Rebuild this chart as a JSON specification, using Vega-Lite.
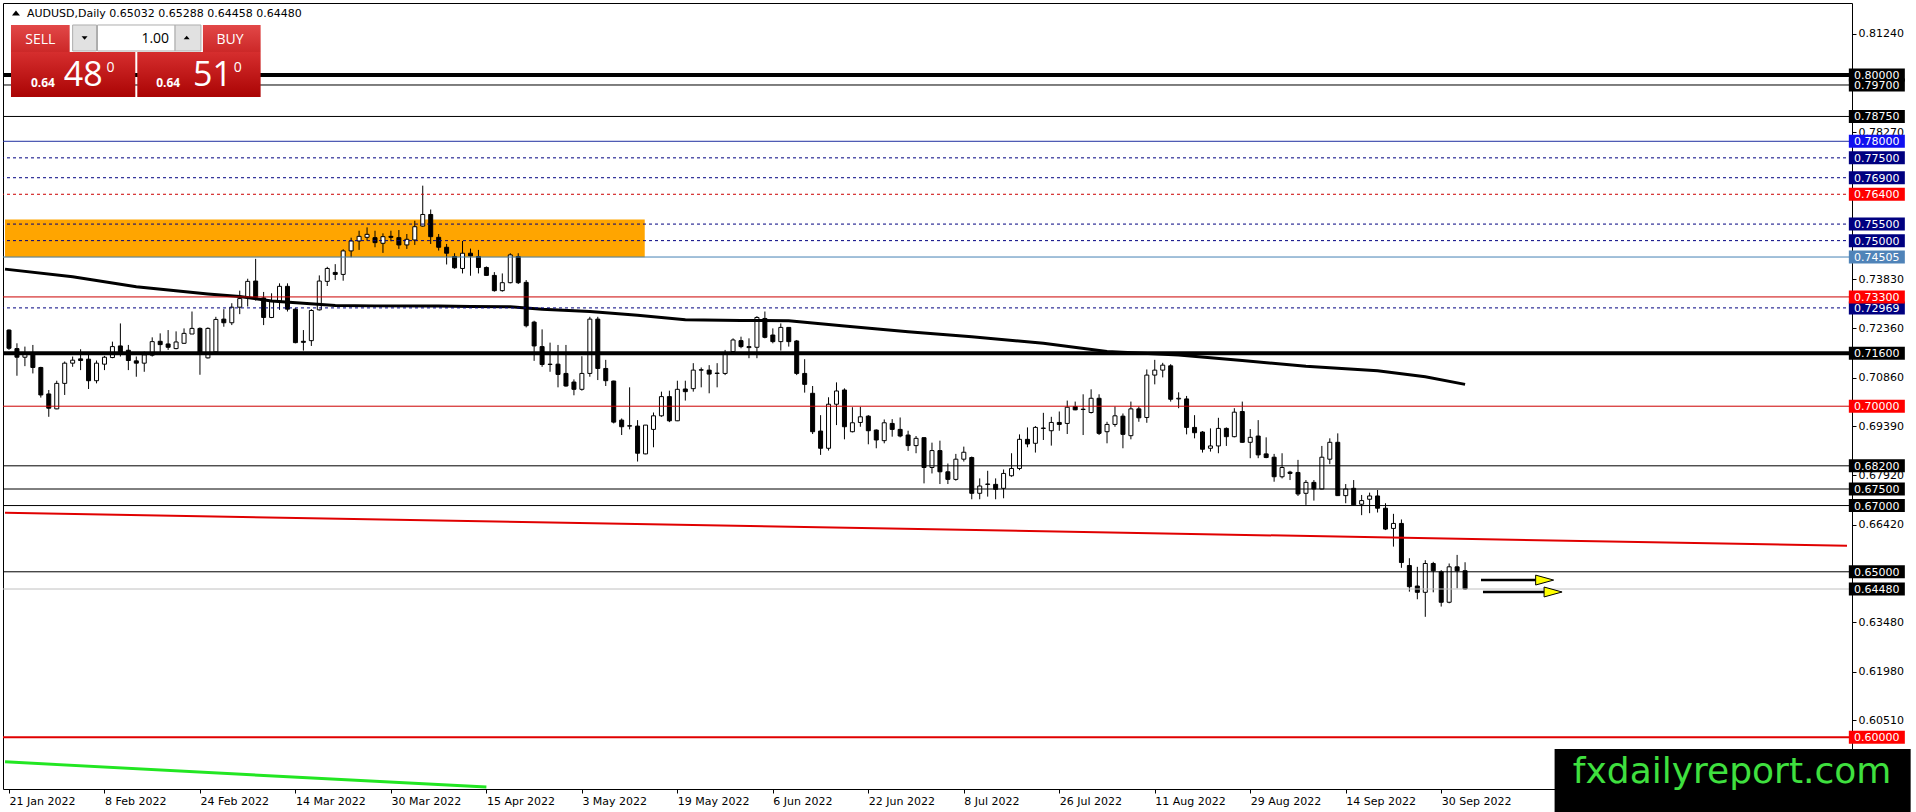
{
"$schema":"https://vega.github.io/schema/vega-lite/v6.json",
"width":1849,"height":786,
"autosize":{"type":"none"},
"padding":{"left":3,"top":3,"right":64,"bottom":23},
"background":"white",
"config":{"view":{"stroke":"black","strokeWidth":1},"font":"DejaVu Sans"},
"resolve":{"axis":{"x":"independent","y":"independent"}},
"datasets":{
"one":[{}],
"candles":[
{"i":0,"o":0.7230,"h":0.7232,"l":0.7170,"c":0.7175},
{"i":1,"o":0.7174,"h":0.7190,"l":0.7092,"c":0.7148},
{"i":2,"o":0.7148,"h":0.7180,"l":0.7121,"c":0.7157},
{"i":3,"o":0.7162,"h":0.7185,"l":0.7099,"c":0.7117},
{"i":4,"o":0.7117,"h":0.7119,"l":0.7026,"c":0.7034},
{"i":5,"o":0.7037,"h":0.7049,"l":0.6968,"c":0.6994},
{"i":6,"o":0.6992,"h":0.7077,"l":0.6991,"c":0.7069},
{"i":7,"o":0.7069,"h":0.7135,"l":0.7034,"c":0.7130},
{"i":8,"o":0.7130,"h":0.7150,"l":0.7119,"c":0.7139},
{"i":9,"o":0.7143,"h":0.7172,"l":0.7109,"c":0.7138},
{"i":10,"o":0.7142,"h":0.7162,"l":0.7052,"c":0.7077},
{"i":11,"o":0.7077,"h":0.7138,"l":0.7069,"c":0.7130},
{"i":12,"o":0.7127,"h":0.7152,"l":0.7109,"c":0.7148},
{"i":13,"o":0.7147,"h":0.7195,"l":0.7145,"c":0.7180},
{"i":14,"o":0.7182,"h":0.7250,"l":0.7150,"c":0.7162},
{"i":15,"o":0.7169,"h":0.7185,"l":0.7109,"c":0.7138},
{"i":16,"o":0.7137,"h":0.7150,"l":0.7089,"c":0.7130},
{"i":17,"o":0.7130,"h":0.7165,"l":0.7104,"c":0.7155},
{"i":18,"o":0.7154,"h":0.7208,"l":0.7150,"c":0.7195},
{"i":19,"o":0.7196,"h":0.7220,"l":0.7157,"c":0.7186},
{"i":20,"o":0.7188,"h":0.7230,"l":0.7170,"c":0.7178},
{"i":21,"o":0.7174,"h":0.7226,"l":0.7172,"c":0.7194},
{"i":22,"o":0.7190,"h":0.7235,"l":0.7188,"c":0.7220},
{"i":23,"o":0.7218,"h":0.7286,"l":0.7218,"c":0.7235},
{"i":24,"o":0.7235,"h":0.7238,"l":0.7095,"c":0.7162},
{"i":25,"o":0.7146,"h":0.7238,"l":0.7144,"c":0.7235},
{"i":26,"o":0.7164,"h":0.7270,"l":0.7160,"c":0.7262},
{"i":27,"o":0.7263,"h":0.7293,"l":0.7240,"c":0.7252},
{"i":28,"o":0.7252,"h":0.7311,"l":0.7245,"c":0.7299},
{"i":29,"o":0.7299,"h":0.7349,"l":0.7278,"c":0.7325},
{"i":30,"o":0.7329,"h":0.7385,"l":0.7301,"c":0.7377},
{"i":31,"o":0.7378,"h":0.7445,"l":0.7319,"c":0.7329},
{"i":32,"o":0.7327,"h":0.7345,"l":0.7245,"c":0.7268},
{"i":33,"o":0.7268,"h":0.7341,"l":0.7266,"c":0.7316},
{"i":34,"o":0.7318,"h":0.7371,"l":0.7291,"c":0.7362},
{"i":35,"o":0.7362,"h":0.7371,"l":0.7286,"c":0.7293},
{"i":36,"o":0.7293,"h":0.7296,"l":0.7190,"c":0.7192},
{"i":37,"o":0.7196,"h":0.7230,"l":0.7168,"c":0.7193},
{"i":38,"o":0.7198,"h":0.7293,"l":0.7182,"c":0.7289},
{"i":39,"o":0.7291,"h":0.7395,"l":0.7289,"c":0.7378},
{"i":40,"o":0.7377,"h":0.7421,"l":0.7363,"c":0.7416},
{"i":41,"o":0.7404,"h":0.7429,"l":0.7381,"c":0.7398},
{"i":42,"o":0.7398,"h":0.7474,"l":0.7379,"c":0.7469},
{"i":43,"o":0.7469,"h":0.7509,"l":0.7450,"c":0.7499},
{"i":44,"o":0.7499,"h":0.7530,"l":0.7472,"c":0.7513},
{"i":45,"o":0.7510,"h":0.7540,"l":0.7500,"c":0.7519},
{"i":46,"o":0.7509,"h":0.7530,"l":0.7480,"c":0.7494},
{"i":47,"o":0.7492,"h":0.7522,"l":0.7463,"c":0.7512},
{"i":48,"o":0.7513,"h":0.7530,"l":0.7498,"c":0.7510},
{"i":49,"o":0.7509,"h":0.7532,"l":0.7475,"c":0.7487},
{"i":50,"o":0.7487,"h":0.7520,"l":0.7475,"c":0.7504},
{"i":51,"o":0.7502,"h":0.7560,"l":0.7487,"c":0.7542},
{"i":52,"o":0.7544,"h":0.7666,"l":0.7542,"c":0.7579},
{"i":53,"o":0.7579,"h":0.7594,"l":0.7490,"c":0.7512},
{"i":54,"o":0.7510,"h":0.7520,"l":0.7470,"c":0.7480},
{"i":55,"o":0.7480,"h":0.7490,"l":0.7428,"c":0.7462},
{"i":56,"o":0.7452,"h":0.7462,"l":0.7415,"c":0.7418},
{"i":57,"o":0.7416,"h":0.7499,"l":0.7401,"c":0.7462},
{"i":58,"o":0.7462,"h":0.7476,"l":0.7394,"c":0.7454},
{"i":59,"o":0.7452,"h":0.7472,"l":0.7401,"c":0.7419},
{"i":60,"o":0.7419,"h":0.7422,"l":0.7394,"c":0.7395},
{"i":61,"o":0.7395,"h":0.7405,"l":0.7346,"c":0.7349},
{"i":62,"o":0.7349,"h":0.7401,"l":0.7346,"c":0.7373},
{"i":63,"o":0.7373,"h":0.7462,"l":0.7371,"c":0.7457},
{"i":64,"o":0.7452,"h":0.7462,"l":0.7369,"c":0.7373},
{"i":65,"o":0.7374,"h":0.7381,"l":0.7238,"c":0.7243},
{"i":66,"o":0.7254,"h":0.7258,"l":0.7137,"c":0.7182},
{"i":67,"o":0.7180,"h":0.7232,"l":0.7119,"c":0.7126},
{"i":68,"o":0.7127,"h":0.7192,"l":0.7104,"c":0.7126},
{"i":69,"o":0.7127,"h":0.7185,"l":0.7057,"c":0.7096},
{"i":70,"o":0.7099,"h":0.7185,"l":0.7059,"c":0.7061},
{"i":71,"o":0.7073,"h":0.7081,"l":0.7033,"c":0.7051},
{"i":72,"o":0.7051,"h":0.7151,"l":0.7047,"c":0.7099},
{"i":73,"o":0.7099,"h":0.7270,"l":0.7089,"c":0.7263},
{"i":74,"o":0.7263,"h":0.7270,"l":0.7079,"c":0.7114},
{"i":75,"o":0.7114,"h":0.7140,"l":0.7061,"c":0.7077},
{"i":76,"o":0.7076,"h":0.7077,"l":0.6948,"c":0.6952},
{"i":77,"o":0.6958,"h":0.6963,"l":0.6913,"c":0.6938},
{"i":78,"o":0.6941,"h":0.7057,"l":0.6930,"c":0.6940},
{"i":79,"o":0.6940,"h":0.6958,"l":0.6833,"c":0.6858},
{"i":80,"o":0.6856,"h":0.6943,"l":0.6855,"c":0.6943},
{"i":81,"o":0.6930,"h":0.6981,"l":0.6876,"c":0.6971},
{"i":82,"o":0.6971,"h":0.7044,"l":0.6968,"c":0.7029},
{"i":83,"o":0.7029,"h":0.7047,"l":0.6952,"c":0.6956},
{"i":84,"o":0.6956,"h":0.7077,"l":0.6955,"c":0.7051},
{"i":85,"o":0.7052,"h":0.7077,"l":0.7017,"c":0.7044},
{"i":86,"o":0.7053,"h":0.7130,"l":0.7044,"c":0.7109},
{"i":87,"o":0.7110,"h":0.7117,"l":0.7057,"c":0.7109},
{"i":88,"o":0.7109,"h":0.7124,"l":0.7039,"c":0.7097},
{"i":89,"o":0.7100,"h":0.7130,"l":0.7057,"c":0.7099},
{"i":90,"o":0.7099,"h":0.7170,"l":0.7094,"c":0.7160},
{"i":91,"o":0.7165,"h":0.7205,"l":0.7160,"c":0.7200},
{"i":92,"o":0.7198,"h":0.7210,"l":0.7175,"c":0.7180},
{"i":93,"o":0.7177,"h":0.7205,"l":0.7145,"c":0.7180},
{"i":94,"o":0.7178,"h":0.7272,"l":0.7145,"c":0.7268},
{"i":95,"o":0.7265,"h":0.7286,"l":0.7205,"c":0.7208},
{"i":96,"o":0.7215,"h":0.7235,"l":0.7190,"c":0.7195},
{"i":97,"o":0.7195,"h":0.7250,"l":0.7168,"c":0.7238},
{"i":98,"o":0.7238,"h":0.7238,"l":0.7180,"c":0.7195},
{"i":99,"o":0.7197,"h":0.7200,"l":0.7094,"c":0.7099},
{"i":100,"o":0.7099,"h":0.7142,"l":0.7041,"c":0.7066},
{"i":101,"o":0.7039,"h":0.7061,"l":0.6916,"c":0.6923},
{"i":102,"o":0.6925,"h":0.6973,"l":0.6853,"c":0.6873},
{"i":103,"o":0.6873,"h":0.7027,"l":0.6866,"c":0.7006},
{"i":104,"o":0.7006,"h":0.7072,"l":0.6943,"c":0.7046},
{"i":105,"o":0.7049,"h":0.7054,"l":0.6900,"c":0.6938},
{"i":106,"o":0.6923,"h":0.6997,"l":0.6921,"c":0.6950},
{"i":107,"o":0.6951,"h":0.6998,"l":0.6938,"c":0.6968},
{"i":108,"o":0.6970,"h":0.6973,"l":0.6885,"c":0.6926},
{"i":109,"o":0.6928,"h":0.6930,"l":0.6873,"c":0.6898},
{"i":110,"o":0.6896,"h":0.6960,"l":0.6888,"c":0.6950},
{"i":111,"o":0.6948,"h":0.6961,"l":0.6908,"c":0.6930},
{"i":112,"o":0.6930,"h":0.6966,"l":0.6906,"c":0.6910},
{"i":113,"o":0.6913,"h":0.6926,"l":0.6865,"c":0.6881},
{"i":114,"o":0.6881,"h":0.6910,"l":0.6858,"c":0.6903},
{"i":115,"o":0.6905,"h":0.6906,"l":0.6767,"c":0.6815},
{"i":116,"o":0.6815,"h":0.6890,"l":0.6797,"c":0.6866},
{"i":117,"o":0.6866,"h":0.6896,"l":0.6765,"c":0.6802},
{"i":118,"o":0.6802,"h":0.6827,"l":0.6765,"c":0.6779},
{"i":119,"o":0.6779,"h":0.6856,"l":0.6775,"c":0.6840},
{"i":120,"o":0.6840,"h":0.6878,"l":0.6833,"c":0.6861},
{"i":121,"o":0.6845,"h":0.6848,"l":0.6719,"c":0.6737},
{"i":122,"o":0.6737,"h":0.6782,"l":0.6719,"c":0.6759},
{"i":123,"o":0.6765,"h":0.6805,"l":0.6727,"c":0.6764},
{"i":124,"o":0.6764,"h":0.6782,"l":0.6719,"c":0.6749},
{"i":125,"o":0.6752,"h":0.6809,"l":0.6722,"c":0.6797},
{"i":126,"o":0.6790,"h":0.6858,"l":0.6787,"c":0.6812},
{"i":127,"o":0.6812,"h":0.6915,"l":0.6807,"c":0.6900},
{"i":128,"o":0.6900,"h":0.6936,"l":0.6876,"c":0.6886},
{"i":129,"o":0.6888,"h":0.6940,"l":0.6860,"c":0.6936},
{"i":130,"o":0.6934,"h":0.6980,"l":0.6898,"c":0.6933},
{"i":131,"o":0.6926,"h":0.6968,"l":0.6881,"c":0.6951},
{"i":132,"o":0.6951,"h":0.6984,"l":0.6926,"c":0.6945},
{"i":133,"o":0.6948,"h":0.7017,"l":0.6916,"c":0.6997},
{"i":134,"o":0.6999,"h":0.7014,"l":0.6988,"c":0.6989},
{"i":135,"o":0.6991,"h":0.7036,"l":0.6913,"c":0.6990},
{"i":136,"o":0.6981,"h":0.7051,"l":0.6978,"c":0.7024},
{"i":137,"o":0.7024,"h":0.7036,"l":0.6913,"c":0.6918},
{"i":138,"o":0.6923,"h":0.6953,"l":0.6888,"c":0.6945},
{"i":139,"o":0.6945,"h":0.6999,"l":0.6938,"c":0.6971},
{"i":140,"o":0.6970,"h":0.6978,"l":0.6873,"c":0.6915},
{"i":141,"o":0.6911,"h":0.7014,"l":0.6900,"c":0.6992},
{"i":142,"o":0.6992,"h":0.6999,"l":0.6953,"c":0.6965},
{"i":143,"o":0.6966,"h":0.7111,"l":0.6950,"c":0.7094},
{"i":144,"o":0.7094,"h":0.7140,"l":0.7066,"c":0.7109},
{"i":145,"o":0.7109,"h":0.7131,"l":0.7087,"c":0.7124},
{"i":146,"o":0.7122,"h":0.7127,"l":0.7014,"c":0.7021},
{"i":147,"o":0.7022,"h":0.7042,"l":0.6994,"c":0.7024},
{"i":148,"o":0.7022,"h":0.7031,"l":0.6915,"c":0.6936},
{"i":149,"o":0.6936,"h":0.6973,"l":0.6903,"c":0.6920},
{"i":150,"o":0.6922,"h":0.6925,"l":0.6860,"c":0.6870},
{"i":151,"o":0.6873,"h":0.6933,"l":0.6863,"c":0.6880},
{"i":152,"o":0.6880,"h":0.6965,"l":0.6858,"c":0.6933},
{"i":153,"o":0.6933,"h":0.6936,"l":0.6880,"c":0.6908},
{"i":154,"o":0.6908,"h":0.6994,"l":0.6906,"c":0.6982},
{"i":155,"o":0.6984,"h":0.7014,"l":0.6890,"c":0.6891},
{"i":156,"o":0.6891,"h":0.6931,"l":0.6843,"c":0.6906},
{"i":157,"o":0.6910,"h":0.6958,"l":0.6843,"c":0.6853},
{"i":158,"o":0.6856,"h":0.6906,"l":0.6843,"c":0.6845},
{"i":159,"o":0.6846,"h":0.6856,"l":0.6772,"c":0.6787},
{"i":160,"o":0.6787,"h":0.6858,"l":0.6782,"c":0.6815},
{"i":161,"o":0.6801,"h":0.6805,"l":0.6777,"c":0.6797},
{"i":162,"o":0.6800,"h":0.6838,"l":0.6729,"c":0.6735},
{"i":163,"o":0.6737,"h":0.6777,"l":0.6702,"c":0.6770},
{"i":164,"o":0.6770,"h":0.6777,"l":0.6715,"c":0.6750},
{"i":165,"o":0.6750,"h":0.6880,"l":0.6749,"c":0.6846},
{"i":166,"o":0.6840,"h":0.6903,"l":0.6825,"c":0.6891},
{"i":167,"o":0.6891,"h":0.6918,"l":0.6729,"c":0.6730},
{"i":168,"o":0.6730,"h":0.6765,"l":0.6707,"c":0.6750},
{"i":169,"o":0.6752,"h":0.6777,"l":0.6700,"c":0.6702},
{"i":170,"o":0.6704,"h":0.6732,"l":0.6671,"c":0.6715},
{"i":171,"o":0.6719,"h":0.6739,"l":0.6677,"c":0.6729},
{"i":172,"o":0.6729,"h":0.6747,"l":0.6679,"c":0.6692},
{"i":173,"o":0.6692,"h":0.6707,"l":0.6626,"c":0.6629},
{"i":174,"o":0.6631,"h":0.6675,"l":0.6576,"c":0.6646},
{"i":175,"o":0.6646,"h":0.6658,"l":0.6512,"c":0.6528},
{"i":176,"o":0.6519,"h":0.6541,"l":0.6440,"c":0.6455},
{"i":177,"o":0.6457,"h":0.6515,"l":0.6417,"c":0.6438},
{"i":178,"o":0.6438,"h":0.6535,"l":0.6364,"c":0.6525},
{"i":179,"o":0.6525,"h":0.6530,"l":0.6438,"c":0.6503},
{"i":180,"o":0.6500,"h":0.6505,"l":0.6395,"c":0.6408},
{"i":181,"o":0.6408,"h":0.6525,"l":0.6405,"c":0.6515},
{"i":182,"o":0.6515,"h":0.6551,"l":0.6450,"c":0.6503},
{"i":183,"o":0.65032,"h":0.65288,"l":0.64458,"c":0.64480}
],
"ma":[
{"i":-0.5,"v":0.7414},{"i":8,"v":0.7391},{"i":16,"v":0.7361},{"i":25,"v":0.7339},{"i":29,"v":0.7331},{"i":33,"v":0.7318},{"i":37,"v":0.7311},{"i":41,"v":0.7304},{"i":46,"v":0.7303},{"i":54,"v":0.7303},{"i":58,"v":0.7301},{"i":63,"v":0.7300},{"i":67,"v":0.7293},{"i":73,"v":0.7286},{"i":79,"v":0.7275},{"i":85,"v":0.7261},{"i":92,"v":0.7259},{"i":98,"v":0.7258},{"i":105,"v":0.7242},{"i":113,"v":0.7225},{"i":121,"v":0.7210},{"i":130,"v":0.7190},{"i":138,"v":0.7165},{"i":147,"v":0.7155},{"i":155,"v":0.7138},{"i":163,"v":0.7121},{"i":172,"v":0.7107},{"i":178,"v":0.7089},{"i":183,"v":0.7066}
],
"zone":[{"x1":-0.5,"x2":79.9,"p1":0.7450,"p2":0.7564}],
"trendRed":[{"i":-0.5,"v":0.6678},{"i":231,"v":0.6579}],
"trendGreen":[{"i":-0.5,"v":0.5926},{"i":60,"v":0.5850}],
"arrows":[{"x1":185,"x2":193.0,"p":0.6475},{"x1":185.25,"x2":194.06,"p":0.6439}],
"lvThick":[{"p":0.8},{"p":0.716}],
"lvBlack":[{"p":0.797},{"p":0.7875},{"p":0.682},{"p":0.675},{"p":0.67},{"p":0.65}],
"lvBlue":[{"p":0.78}],
"lvNavy":[{"p":0.775},{"p":0.769},{"p":0.755},{"p":0.75},{"p":0.72969}],
"lvRedDash":[{"p":0.764}],
"lvSteel":[{"p":0.74505}],
"lvRed":[{"p":0.733},{"p":0.70}],
"lvRed2":[{"p":0.60}],
"lvBid":[{"p":0.6448}],
"lbNavy":[{"p":0.775},{"p":0.769},{"p":0.755},{"p":0.75},{"p":0.72969}],
"lbBlue":[{"p":0.78}],
"lbSteel":[{"p":0.74505}],
"lbRed":[{"p":0.764},{"p":0.733},{"p":0.70},{"p":0.60}],
"lbBlack":[{"p":0.8},{"p":0.797},{"p":0.7875},{"p":0.716},{"p":0.682},{"p":0.675},{"p":0.67},{"p":0.65},{"p":0.6448}]
},
"layer":[
{"data":{"name":"one"},"mark":{"type":"point","opacity":0,"size":1},
 "encoding":{"x":{"datum":100,"type":"quantitative","title":null,"scale":{"domain":[-0.125,231],"nice":false,"zero":false},
   "axis":{"orient":"bottom","title":null,"grid":false,"domain":false,"values":[0,12,24,36,48,60,72,84,96,108,120,132,144,156,168,180],
   "labelExpr":"datum.value==0?'21 Jan 2022':datum.value==12?'8 Feb 2022':datum.value==24?'24 Feb 2022':datum.value==36?'14 Mar 2022':datum.value==48?'30 Mar 2022':datum.value==60?'15 Apr 2022':datum.value==72?'3 May 2022':datum.value==84?'19 May 2022':datum.value==96?'6 Jun 2022':datum.value==108?'22 Jun 2022':datum.value==120?'8 Jul 2022':datum.value==132?'26 Jul 2022':datum.value==144?'11 Aug 2022':datum.value==156?'29 Aug 2022':datum.value==168?'14 Sep 2022':'30 Sep 2022'",
   "labelAlign":"left","labelBaseline":"top","labelPadding":2,"labelFont":"DejaVu Sans","labelFontSize":11,"labelColor":"black","tickColor":"black","tickSize":4}},
  "y":{"datum":0.7,"type":"quantitative","title":null,"scale":{"domain":[0.584408,0.821761],"nice":false,"zero":false},
   "axis":{"orient":"right","title":null,"grid":false,"domain":false,"values":[0.8124,0.7827,0.7383,0.7236,0.7086,0.6939,0.6792,0.6642,0.6348,0.6198,0.6051],
   "format":".5f","labelPadding":2,"labelFont":"DejaVu Sans","labelFontSize":11,"labelColor":"black","tickColor":"black","tickSize":4}}}},
{"data":{"name":"zone"},"mark":{"type":"rect","color":"#FFA500","clip":true},
 "encoding":{"x":{"field":"x1","type":"quantitative","scale":{"domain":[-0.125,231],"nice":false,"zero":false},"axis":null},
  "x2":{"field":"x2"},
  "y":{"field":"p1","type":"quantitative","scale":{"domain":[0.584408,0.821761],"nice":false,"zero":false},"axis":null},
  "y2":{"field":"p2"}}},
{"data":{"name":"candles"},"mark":{"type":"rule","color":"black","strokeWidth":1,"clip":true},
 "encoding":{"x":{"field":"i","type":"quantitative","scale":{"domain":[-0.125,231],"nice":false,"zero":false},"axis":null},
  "y":{"field":"l","type":"quantitative","scale":{"domain":[0.584408,0.821761],"nice":false,"zero":false},"axis":null},
  "y2":{"field":"h"}}},
{"data":{"name":"candles"},"mark":{"type":"bar","orient":"vertical","size":4,"stroke":"black","strokeWidth":1,"clip":true},
 "encoding":{"x":{"field":"i","type":"quantitative","scale":{"domain":[-0.125,231],"nice":false,"zero":false},"axis":null},
  "y":{"field":"o","type":"quantitative","scale":{"domain":[0.584408,0.821761],"nice":false,"zero":false},"axis":null},"y2":{"field":"c"},
  "fill":{"condition":{"test":"datum.c < datum.o","value":"black"},"value":"white"}}},
{"data":{"name":"ma"},"mark":{"type":"line","color":"black","strokeWidth":3,"clip":true},
 "encoding":{"x":{"field":"i","type":"quantitative","scale":{"domain":[-0.125,231],"nice":false,"zero":false},"axis":null},
  "y":{"field":"v","type":"quantitative","scale":{"domain":[0.584408,0.821761],"nice":false,"zero":false},"axis":null}}},
{"data":{"name":"lvThick"},"mark":{"type":"rule","color":"black","strokeWidth":4},
 "encoding":{"y":{"field":"p","type":"quantitative","scale":{"domain":[0.584408,0.821761],"nice":false,"zero":false},"axis":null}}},
{"data":{"name":"lvBlack"},"mark":{"type":"rule","color":"black","strokeWidth":1},
 "encoding":{"y":{"field":"p","type":"quantitative","scale":{"domain":[0.584408,0.821761],"nice":false,"zero":false},"axis":null}}},
{"data":{"name":"lvBlue"},"mark":{"type":"rule","color":"#2030a0","strokeWidth":1},
 "encoding":{"y":{"field":"p","type":"quantitative","scale":{"domain":[0.584408,0.821761],"nice":false,"zero":false},"axis":null}}},
{"data":{"name":"lvNavy"},"mark":{"type":"rule","color":"#000080","strokeWidth":1,"strokeDash":[3,3]},
 "encoding":{"y":{"field":"p","type":"quantitative","scale":{"domain":[0.584408,0.821761],"nice":false,"zero":false},"axis":null}}},
{"data":{"name":"lvRedDash"},"mark":{"type":"rule","color":"#cc0000","strokeWidth":1,"strokeDash":[3,3]},
 "encoding":{"y":{"field":"p","type":"quantitative","scale":{"domain":[0.584408,0.821761],"nice":false,"zero":false},"axis":null}}},
{"data":{"name":"lvSteel"},"mark":{"type":"rule","color":"#4682B4","strokeWidth":1},
 "encoding":{"y":{"field":"p","type":"quantitative","scale":{"domain":[0.584408,0.821761],"nice":false,"zero":false},"axis":null}}},
{"data":{"name":"lvRed"},"mark":{"type":"rule","color":"#cc0000","strokeWidth":1},
 "encoding":{"y":{"field":"p","type":"quantitative","scale":{"domain":[0.584408,0.821761],"nice":false,"zero":false},"axis":null}}},
{"data":{"name":"lvRed2"},"mark":{"type":"rule","color":"#e00000","strokeWidth":2},
 "encoding":{"y":{"field":"p","type":"quantitative","scale":{"domain":[0.584408,0.821761],"nice":false,"zero":false},"axis":null}}},
{"data":{"name":"lvBid"},"mark":{"type":"rule","color":"#c0c0c0","strokeWidth":1},
 "encoding":{"y":{"field":"p","type":"quantitative","scale":{"domain":[0.584408,0.821761],"nice":false,"zero":false},"axis":null}}},
{"data":{"name":"trendRed"},"mark":{"type":"line","color":"#e00000","strokeWidth":2,"clip":true},
 "encoding":{"x":{"field":"i","type":"quantitative","scale":{"domain":[-0.125,231],"nice":false,"zero":false},"axis":null},
  "y":{"field":"v","type":"quantitative","scale":{"domain":[0.584408,0.821761],"nice":false,"zero":false},"axis":null}}},
{"data":{"name":"trendGreen"},"mark":{"type":"line","color":"#22e622","strokeWidth":3,"clip":true},
 "encoding":{"x":{"field":"i","type":"quantitative","scale":{"domain":[-0.125,231],"nice":false,"zero":false},"axis":null},
  "y":{"field":"v","type":"quantitative","scale":{"domain":[0.584408,0.821761],"nice":false,"zero":false},"axis":null}}},
{"data":{"name":"arrows"},"mark":{"type":"rule","color":"black","strokeWidth":2.5},
 "encoding":{"x":{"field":"x1","type":"quantitative","scale":{"domain":[-0.125,231],"nice":false,"zero":false},"axis":null},"x2":{"field":"x2"},
  "y":{"field":"p","type":"quantitative","scale":{"domain":[0.584408,0.821761],"nice":false,"zero":false},"axis":null}}},
{"data":{"name":"arrows"},"mark":{"type":"point","shape":"M-1,-0.55L1,0L-1,0.55Z","size":324,"filled":true,"fill":"#ffff00","stroke":"black","strokeWidth":1,"opacity":1},
 "encoding":{"x":{"field":"x2","type":"quantitative","scale":{"domain":[-0.125,231],"nice":false,"zero":false},"axis":null},
  "y":{"field":"p","type":"quantitative","scale":{"domain":[0.584408,0.821761],"nice":false,"zero":false},"axis":null}}},
{"data":{"name":"lbNavy"},"mark":{"type":"tick","orient":"horizontal","color":"#000080","size":56,"thickness":13,"opacity":1,"clip":false},
 "encoding":{"x":{"datum":234.75,"type":"quantitative","scale":{"domain":[-0.125,231],"nice":false,"zero":false},"axis":null},
  "y":{"field":"p","type":"quantitative","scale":{"domain":[0.584408,0.821761],"nice":false,"zero":false},"axis":null}}},
{"data":{"name":"lbNavy"},"mark":{"type":"text","color":"white","font":"DejaVu Sans","fontSize":11,"align":"center","baseline":"middle","dy":1,"clip":false},
 "encoding":{"x":{"datum":234.75,"type":"quantitative","scale":{"domain":[-0.125,231],"nice":false,"zero":false},"axis":null},
  "y":{"field":"p","type":"quantitative","scale":{"domain":[0.584408,0.821761],"nice":false,"zero":false},"axis":null},
  "text":{"field":"p","type":"quantitative","format":".5f"}}},
{"data":{"name":"lbBlue"},"mark":{"type":"tick","orient":"horizontal","color":"#1010f0","size":56,"thickness":13,"opacity":1,"clip":false},
 "encoding":{"x":{"datum":234.75,"type":"quantitative","scale":{"domain":[-0.125,231],"nice":false,"zero":false},"axis":null},
  "y":{"field":"p","type":"quantitative","scale":{"domain":[0.584408,0.821761],"nice":false,"zero":false},"axis":null}}},
{"data":{"name":"lbBlue"},"mark":{"type":"text","color":"white","font":"DejaVu Sans","fontSize":11,"align":"center","baseline":"middle","dy":1,"clip":false},
 "encoding":{"x":{"datum":234.75,"type":"quantitative","scale":{"domain":[-0.125,231],"nice":false,"zero":false},"axis":null},
  "y":{"field":"p","type":"quantitative","scale":{"domain":[0.584408,0.821761],"nice":false,"zero":false},"axis":null},
  "text":{"field":"p","type":"quantitative","format":".5f"}}},
{"data":{"name":"lbSteel"},"mark":{"type":"tick","orient":"horizontal","color":"#4f83b8","size":56,"thickness":13,"opacity":1,"clip":false},
 "encoding":{"x":{"datum":234.75,"type":"quantitative","scale":{"domain":[-0.125,231],"nice":false,"zero":false},"axis":null},
  "y":{"field":"p","type":"quantitative","scale":{"domain":[0.584408,0.821761],"nice":false,"zero":false},"axis":null}}},
{"data":{"name":"lbSteel"},"mark":{"type":"text","color":"white","font":"DejaVu Sans","fontSize":11,"align":"center","baseline":"middle","dy":1,"clip":false},
 "encoding":{"x":{"datum":234.75,"type":"quantitative","scale":{"domain":[-0.125,231],"nice":false,"zero":false},"axis":null},
  "y":{"field":"p","type":"quantitative","scale":{"domain":[0.584408,0.821761],"nice":false,"zero":false},"axis":null},
  "text":{"field":"p","type":"quantitative","format":".5f"}}},
{"data":{"name":"lbRed"},"mark":{"type":"tick","orient":"horizontal","color":"#ff0000","size":56,"thickness":13,"opacity":1,"clip":false},
 "encoding":{"x":{"datum":234.75,"type":"quantitative","scale":{"domain":[-0.125,231],"nice":false,"zero":false},"axis":null},
  "y":{"field":"p","type":"quantitative","scale":{"domain":[0.584408,0.821761],"nice":false,"zero":false},"axis":null}}},
{"data":{"name":"lbRed"},"mark":{"type":"text","color":"white","font":"DejaVu Sans","fontSize":11,"align":"center","baseline":"middle","dy":1,"clip":false},
 "encoding":{"x":{"datum":234.75,"type":"quantitative","scale":{"domain":[-0.125,231],"nice":false,"zero":false},"axis":null},
  "y":{"field":"p","type":"quantitative","scale":{"domain":[0.584408,0.821761],"nice":false,"zero":false},"axis":null},
  "text":{"field":"p","type":"quantitative","format":".5f"}}},
{"data":{"name":"lbBlack"},"mark":{"type":"tick","orient":"horizontal","color":"#000000","size":56,"thickness":13,"opacity":1,"clip":false},
 "encoding":{"x":{"datum":234.75,"type":"quantitative","scale":{"domain":[-0.125,231],"nice":false,"zero":false},"axis":null},
  "y":{"field":"p","type":"quantitative","scale":{"domain":[0.584408,0.821761],"nice":false,"zero":false},"axis":null}}},
{"data":{"name":"lbBlack"},"mark":{"type":"text","color":"white","font":"DejaVu Sans","fontSize":11,"align":"center","baseline":"middle","dy":1,"clip":false},
 "encoding":{"x":{"datum":234.75,"type":"quantitative","scale":{"domain":[-0.125,231],"nice":false,"zero":false},"axis":null},
  "y":{"field":"p","type":"quantitative","scale":{"domain":[0.584408,0.821761],"nice":false,"zero":false},"axis":null},
  "text":{"field":"p","type":"quantitative","format":".5f"}}},
{"data":{"name":"one"},"mark":{"type":"point","shape":"M-1,0.6L1,0.6L0,-0.6Z","size":64,"filled":true,"color":"black","opacity":1,"clip":false},
 "encoding":{"x":{"datum":0.875,"type":"quantitative","scale":{"domain":[-0.125,231],"nice":false,"zero":false},"axis":null},
  "y":{"datum":0.81874,"type":"quantitative","scale":{"domain":[0.584408,0.821761],"nice":false,"zero":false},"axis":null}}},
{"data":{"name":"one"},"mark":{"type":"text","text":"AUDUSD,Daily  0.65032 0.65288 0.64458 0.64480","color":"black","font":"DejaVu Sans","fontSize":11,"align":"left","baseline":"alphabetic","clip":false},
 "encoding":{"x":{"datum":2.25,"type":"quantitative","scale":{"domain":[-0.125,231],"nice":false,"zero":false},"axis":null},
  "y":{"datum":0.81744,"type":"quantitative","scale":{"domain":[0.584408,0.821761],"nice":false,"zero":false},"axis":null}}},
{"data":{"name":"one"},"mark":{"type":"rect","fill":{"gradient":"linear","x1":0,"y1":0,"x2":0,"y2":1,"stops":[{"offset":0,"color":"#e24848"},{"offset":1,"color":"#cc2828"}]},"clip":false},
 "encoding":{"x":{"datum":0.25,"type":"quantitative","scale":{"domain":[-0.125,231],"nice":false,"zero":false},"axis":null},"x2":{"datum":7.625},
  "y":{"datum":0.81512,"type":"quantitative","scale":{"domain":[0.584408,0.821761],"nice":false,"zero":false},"axis":null},"y2":{"datum":0.80696}}},
{"data":{"name":"one"},"mark":{"type":"rect","fill":{"gradient":"linear","x1":0,"y1":0,"x2":0,"y2":1,"stops":[{"offset":0,"color":"#e24848"},{"offset":1,"color":"#cc2828"}]},"clip":false},
 "encoding":{"x":{"datum":24.375,"type":"quantitative","scale":{"domain":[-0.125,231],"nice":false,"zero":false},"axis":null},"x2":{"datum":31.625},
  "y":{"datum":0.81512,"type":"quantitative","scale":{"domain":[0.584408,0.821761],"nice":false,"zero":false},"axis":null},"y2":{"datum":0.80696}}},
{"data":{"name":"one"},"mark":{"type":"rect","fill":{"gradient":"linear","x1":0,"y1":0,"x2":0,"y2":1,"stops":[{"offset":0,"color":"#d62e2e"},{"offset":1,"color":"#aa0404"}]},"clip":false},
 "encoding":{"x":{"datum":0.25,"type":"quantitative","scale":{"domain":[-0.125,231],"nice":false,"zero":false},"axis":null},"x2":{"datum":15.875},
  "y":{"datum":0.80696,"type":"quantitative","scale":{"domain":[0.584408,0.821761],"nice":false,"zero":false},"axis":null},"y2":{"datum":0.79338}}},
{"data":{"name":"one"},"mark":{"type":"rect","fill":{"gradient":"linear","x1":0,"y1":0,"x2":0,"y2":1,"stops":[{"offset":0,"color":"#d62e2e"},{"offset":1,"color":"#aa0404"}]},"clip":false},
 "encoding":{"x":{"datum":16.125,"type":"quantitative","scale":{"domain":[-0.125,231],"nice":false,"zero":false},"axis":null},"x2":{"datum":31.625},
  "y":{"datum":0.80696,"type":"quantitative","scale":{"domain":[0.584408,0.821761],"nice":false,"zero":false},"axis":null},"y2":{"datum":0.79338}}},
{"data":{"name":"one"},"mark":{"type":"rect","fill":"#e1e1e1","stroke":"#adadad","strokeWidth":1,"clip":false},
 "encoding":{"x":{"datum":8,"type":"quantitative","scale":{"domain":[-0.125,231],"nice":false,"zero":false},"axis":null},"x2":{"datum":11},
  "y":{"datum":0.81512,"type":"quantitative","scale":{"domain":[0.584408,0.821761],"nice":false,"zero":false},"axis":null},"y2":{"datum":0.80727}}},
{"data":{"name":"one"},"mark":{"type":"rect","fill":"white","stroke":"#adadad","strokeWidth":1,"clip":false},
 "encoding":{"x":{"datum":11.125,"type":"quantitative","scale":{"domain":[-0.125,231],"nice":false,"zero":false},"axis":null},"x2":{"datum":20.875},
  "y":{"datum":0.81512,"type":"quantitative","scale":{"domain":[0.584408,0.821761],"nice":false,"zero":false},"axis":null},"y2":{"datum":0.80727}}},
{"data":{"name":"one"},"mark":{"type":"rect","fill":"#e1e1e1","stroke":"#adadad","strokeWidth":1,"clip":false},
 "encoding":{"x":{"datum":20.875,"type":"quantitative","scale":{"domain":[-0.125,231],"nice":false,"zero":false},"axis":null},"x2":{"datum":24.125},
  "y":{"datum":0.81512,"type":"quantitative","scale":{"domain":[0.584408,0.821761],"nice":false,"zero":false},"axis":null},"y2":{"datum":0.80727}}},
{"data":{"name":"one"},"mark":{"type":"point","shape":"M-1,-0.6L1,-0.6L0,0.6Z","size":36,"filled":true,"color":"black","opacity":1,"clip":false},
 "encoding":{"x":{"datum":9.5,"type":"quantitative","scale":{"domain":[-0.125,231],"nice":false,"zero":false},"axis":null},
  "y":{"datum":0.81119,"type":"quantitative","scale":{"domain":[0.584408,0.821761],"nice":false,"zero":false},"axis":null}}},
{"data":{"name":"one"},"mark":{"type":"point","shape":"M-1,0.6L1,0.6L0,-0.6Z","size":36,"filled":true,"color":"black","opacity":1,"clip":false},
 "encoding":{"x":{"datum":22.33,"type":"quantitative","scale":{"domain":[-0.125,231],"nice":false,"zero":false},"axis":null},
  "y":{"datum":0.81134,"type":"quantitative","scale":{"domain":[0.584408,0.821761],"nice":false,"zero":false},"axis":null}}},
{"data":{"name":"one"},"mark":{"type":"text","text":"1.00","color":"black","font":"Open Sans","fontSize":14,"align":"right","baseline":"alphabetic","clip":false},
 "encoding":{"x":{"datum":20.125,"type":"quantitative","scale":{"domain":[-0.125,231],"nice":false,"zero":false},"axis":null},
  "y":{"datum":0.80959,"type":"quantitative","scale":{"domain":[0.584408,0.821761],"nice":false,"zero":false},"axis":null}}},
{"data":{"name":"one"},"mark":{"type":"text","text":"SELL","color":"white","font":"Open Sans","fontSize":14,"align":"center","baseline":"alphabetic","clip":false},
 "encoding":{"x":{"datum":3.94,"type":"quantitative","scale":{"domain":[-0.125,231],"nice":false,"zero":false},"axis":null},
  "y":{"datum":0.80929,"type":"quantitative","scale":{"domain":[0.584408,0.821761],"nice":false,"zero":false},"axis":null}}},
{"data":{"name":"one"},"mark":{"type":"text","text":"BUY","color":"white","font":"Open Sans","fontSize":14,"align":"center","baseline":"alphabetic","clip":false},
 "encoding":{"x":{"datum":27.79,"type":"quantitative","scale":{"domain":[-0.125,231],"nice":false,"zero":false},"axis":null},
  "y":{"datum":0.80929,"type":"quantitative","scale":{"domain":[0.584408,0.821761],"nice":false,"zero":false},"axis":null}}},
{"data":{"name":"one"},"mark":{"type":"text","text":"0.64","color":"white","font":"Open Sans","fontWeight":"bold","fontSize":12,"align":"left","baseline":"alphabetic","clip":false},
 "encoding":{"x":{"datum":2.75,"type":"quantitative","scale":{"domain":[-0.125,231],"nice":false,"zero":false},"axis":null},
  "y":{"datum":0.7964,"type":"quantitative","scale":{"domain":[0.584408,0.821761],"nice":false,"zero":false},"axis":null}}},
{"data":{"name":"one"},"mark":{"type":"text","text":"48","color":"white","font":"Open Sans","fontSize":34,"align":"left","baseline":"alphabetic","clip":false},
 "encoding":{"x":{"datum":6.875,"type":"quantitative","scale":{"domain":[-0.125,231],"nice":false,"zero":false},"axis":null},
  "y":{"datum":0.7967,"type":"quantitative","scale":{"domain":[0.584408,0.821761],"nice":false,"zero":false},"axis":null}}},
{"data":{"name":"one"},"mark":{"type":"text","text":"0","color":"white","font":"Open Sans","fontSize":14,"align":"left","baseline":"alphabetic","clip":false},
 "encoding":{"x":{"datum":12.25,"type":"quantitative","scale":{"domain":[-0.125,231],"nice":false,"zero":false},"axis":null},
  "y":{"datum":0.80102,"type":"quantitative","scale":{"domain":[0.584408,0.821761],"nice":false,"zero":false},"axis":null}}},
{"data":{"name":"one"},"mark":{"type":"text","text":"0.64","color":"white","font":"Open Sans","fontWeight":"bold","fontSize":12,"align":"left","baseline":"alphabetic","clip":false},
 "encoding":{"x":{"datum":18.5,"type":"quantitative","scale":{"domain":[-0.125,231],"nice":false,"zero":false},"axis":null},
  "y":{"datum":0.7964,"type":"quantitative","scale":{"domain":[0.584408,0.821761],"nice":false,"zero":false},"axis":null}}},
{"data":{"name":"one"},"mark":{"type":"text","text":"51","color":"white","font":"Open Sans","fontSize":34,"align":"left","baseline":"alphabetic","clip":false},
 "encoding":{"x":{"datum":23.125,"type":"quantitative","scale":{"domain":[-0.125,231],"nice":false,"zero":false},"axis":null},
  "y":{"datum":0.7967,"type":"quantitative","scale":{"domain":[0.584408,0.821761],"nice":false,"zero":false},"axis":null}}},
{"data":{"name":"one"},"mark":{"type":"text","text":"0","color":"white","font":"Open Sans","fontSize":14,"align":"left","baseline":"alphabetic","clip":false},
 "encoding":{"x":{"datum":28.25,"type":"quantitative","scale":{"domain":[-0.125,231],"nice":false,"zero":false},"axis":null},
  "y":{"datum":0.80102,"type":"quantitative","scale":{"domain":[0.584408,0.821761],"nice":false,"zero":false},"axis":null}}},
{"data":{"name":"one"},"mark":{"type":"rect","color":"black","clip":false},
 "encoding":{"x":{"datum":194.25,"type":"quantitative","scale":{"domain":[-0.125,231],"nice":false,"zero":false},"axis":null},"x2":{"datum":239},
  "y":{"datum":0.59649,"type":"quantitative","scale":{"domain":[0.584408,0.821761],"nice":false,"zero":false},"axis":null},"y2":{"datum":0.57746}}},
{"data":{"name":"one"},"mark":{"type":"text","text":"fxdailyreport.com","color":"#3fe03f","font":"DejaVu Sans","fontSize":36,"align":"center","baseline":"alphabetic","clip":false},
 "encoding":{"x":{"datum":216.56,"type":"quantitative","scale":{"domain":[-0.125,231],"nice":false,"zero":false},"axis":null},
  "y":{"datum":0.58622,"type":"quantitative","scale":{"domain":[0.584408,0.821761],"nice":false,"zero":false},"axis":null}}}
]
}
